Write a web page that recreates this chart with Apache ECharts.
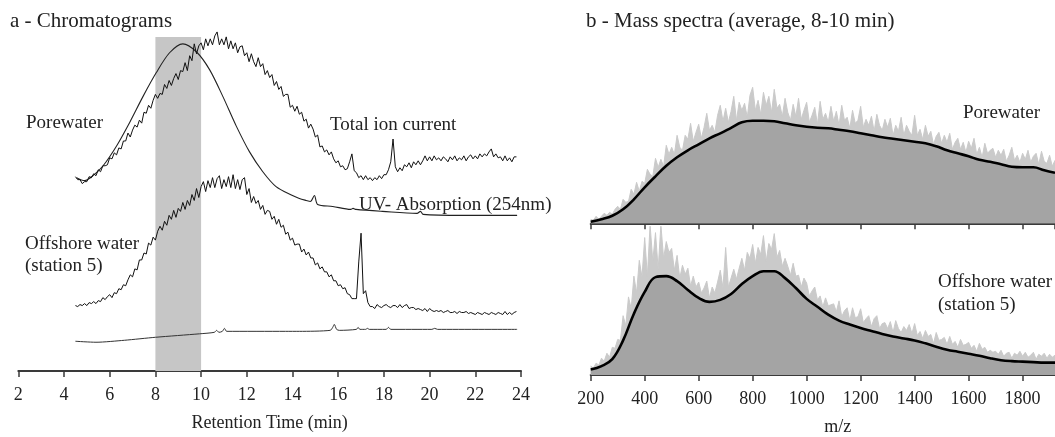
<!DOCTYPE html>
<html>
<head>
<meta charset="utf-8">
<script src="https://cdn.jsdelivr.net/npm/echarts@6/dist/echarts.min.js"></script>
<style>
  html, body { margin: 0; padding: 0; background: #fff; }
  #chart { width: 1055px; height: 437px; }
</style>
</head>
<body>
<div id="chart"></div>
<script>
// ---- a: chromatograms (retention time in min, intensity in arbitrary units) ----
// total ion current, sampled every 0.1 min from 4.5 min
const ticStart = 4.5;
const ticStep = 0.1;
const ticPorewater = [
  196, 193, 193, 189, 191, 191, 196, 195, 199, 197,
  203, 201, 207, 207, 208, 215, 214, 220, 218, 225,
  224, 232, 232, 240, 236, 243, 248, 246, 253, 250,
  261, 260, 268, 265, 273, 279, 275, 280, 279, 289,
  285, 293, 288, 295, 300, 294, 303, 302, 311, 303,
  318, 313, 330, 320, 328, 331, 324, 335, 328, 335,
  329, 338, 342, 329, 335, 329, 337, 325, 333, 325,
  331, 321, 327, 328, 318, 321, 312, 320, 312, 307,
  316, 307, 310, 299, 303, 296, 299, 288, 292, 284,
  287, 277, 279, 279, 266, 268, 262, 267, 259, 261,
  252, 254, 245, 249, 244, 236, 238, 226, 227, 221,
  223, 218, 221, 214, 210, 212, 206, 207, 203, 204,
  211, 219, 202, 200, 195, 197, 193, 197, 193, 195,
  192, 195, 193, 197, 194, 198, 198, 203, 211, 234,
  206, 201, 205, 202, 208, 206, 210, 205, 211, 208,
  212, 208, 212, 217, 212, 216, 212, 217, 213, 215,
  212, 216, 214, 211, 216, 213, 217, 212, 215, 213,
  217, 212, 216, 218, 214, 217, 214, 219, 216, 219,
  217, 221, 224, 216, 219, 215, 216, 212, 217, 212,
  215, 211, 216, 216
];
const ticOffshore = [
  66, 65, 67, 66, 68, 66, 69, 68, 70, 68,
  71, 70, 74, 72, 75, 77, 74, 79, 78, 83,
  82, 87, 86, 92, 97, 95, 103, 102, 112, 112,
  119, 118, 129, 127, 135, 132, 141, 146, 142, 151,
  147, 157, 153, 162, 155, 164, 161, 170, 163, 172,
  167, 178, 172, 184, 175, 186, 191, 181, 192, 185,
  195, 185, 194, 197, 184, 193, 186, 196, 185, 198,
  184, 193, 183, 193, 195, 178, 184, 170, 176, 169,
  172, 163, 167, 158, 162, 161, 153, 156, 148, 153,
  145, 147, 138, 140, 132, 134, 127, 128, 128, 120,
  123, 117, 120, 114, 114, 107, 109, 103, 105, 100,
  100, 95, 97, 91, 91, 86, 87, 83, 84, 78,
  77, 73, 73, 73, 110, 139, 78, 81, 69, 65,
  65, 63, 67, 65, 64, 66, 67, 65, 64, 66,
  66, 64, 67, 64, 66, 67, 63, 64, 64, 62,
  63, 62, 61, 63, 60, 63, 61, 60, 61, 60,
  61, 59, 60, 61, 59, 59, 60, 58, 60, 59,
  59, 60, 58, 59, 58, 57, 59, 58, 57, 59,
  58, 57, 59, 58, 57, 59, 58, 57, 60, 57,
  59, 57, 59, 60
];
// UV absorption (254nm), [time, intensity]
const uvPorewater = [
  [4.55, 195], [4.9, 192], [5.27, 197], [5.71, 207], [6.3, 227], [6.88, 251],
  [7.46, 277], [8.04, 301], [8.62, 321], [9.2, 330], [9.79, 322], [10.37, 304],
  [10.95, 277], [11.54, 247], [12.12, 221], [12.7, 201], [13.28, 186], [14.0, 177],
  [14.3, 174], [14.6, 172], [14.78, 171], [14.96, 177], [15.1, 168], [15.76, 166],
  [16.55, 163], [16.65, 164], [16.78, 163], [17.94, 161], [19.45, 159], [19.6, 161],
  [19.72, 158], [21.43, 157], [23.83, 157]
];
const uvOffshore = [
  [4.5, 30], [5.4, 29], [6.65, 31], [8.0, 34], [9.93, 37.5], [10.58, 39], [10.68, 41],
  [10.78, 39], [10.93, 40], [11.02, 43], [11.12, 40], [13.7, 40], [14.3, 40],
  [15.65, 41], [15.76, 44], [15.83, 47], [15.93, 42], [16.05, 41], [16.8, 42],
  [16.87, 44], [16.95, 42], [17.2, 42], [17.28, 43], [17.36, 42], [18.1, 42],
  [18.2, 44], [18.3, 42], [20.1, 42], [20.22, 43], [20.35, 42], [23.83, 42]
];
const shadedWindow = [8, 10];

// ---- b: mass spectra, average 8-10 min (m/z, intensity in arbitrary units) ----
const mzStart = 200;
const rawStep = 10;     // raw spectrum every 10 m/z
const smoothStep = 40;  // smoothed envelope every 40 m/z
const rawPorewater = [
  4, 3, 7, 4, 7, 10, 8, 11, 9, 14,
  17, 14, 24, 21, 22, 34, 29, 41, 32, 42,
  40, 54, 49, 47, 65, 56, 64, 57, 78, 69,
  76, 69, 88, 76, 73, 88, 84, 100, 82, 91,
  99, 85, 96, 110, 93, 98, 91, 108, 118, 102,
  115, 101, 112, 127, 103, 121, 113, 120, 106, 128,
  136, 113, 123, 109, 131, 118, 127, 111, 134, 115,
  119, 107, 125, 111, 103, 119, 107, 125, 104, 113,
  121, 101, 108, 116, 99, 122, 104, 110, 101, 117,
  102, 112, 98, 118, 103, 106, 95, 113, 100, 103,
  117, 96, 104, 98, 107, 92, 109, 98, 93, 104,
  96, 105, 88, 98, 92, 106, 88, 98, 92, 88,
  108, 88, 94, 84, 98, 87, 92, 79, 87, 91,
  80, 88, 81, 90, 74, 81, 85, 74, 81, 71,
  82, 75, 85, 69, 76, 66, 80, 70, 73, 75,
  66, 73, 68, 74, 62, 68, 76, 63, 68, 61,
  70, 64, 73, 61, 67, 70, 59, 72, 62, 60,
  68, 57, 63
];
const smoothPorewater = [
  1.5, 4, 7.5, 14, 24, 36, 47, 57.5, 66, 73, 79, 85, 90, 95.5, 101, 102.5,
  102.5, 102, 100, 98, 96.5, 95.5, 95, 93.5, 92, 90, 88, 86, 84.5, 83, 81.5,
  80, 77, 73, 70, 67, 63.5, 61.5, 59, 56.5, 56, 56, 53, 50.5
];
const rawOffshore = [
  9, 7, 12, 10, 17, 14, 22, 18, 28, 27,
  36, 35, 60, 50, 79, 67, 100, 83, 116, 99,
  139, 100, 152, 115, 144, 107, 152, 118, 135, 124,
  128, 106, 121, 98, 111, 102, 108, 90, 100, 89,
  94, 83, 88, 95, 78, 89, 83, 94, 106, 88,
  129, 89, 98, 107, 97, 108, 118, 106, 124, 118,
  132, 113, 129, 122, 141, 115, 133, 127, 143, 119,
  126, 110, 118, 110, 101, 113, 100, 101, 89, 98,
  93, 80, 85, 89, 76, 80, 69, 78, 70, 71,
  72, 64, 75, 59, 65, 68, 55, 68, 58, 59,
  67, 53, 57, 60, 49, 57, 60, 47, 52, 53,
  47, 54, 43, 55, 47, 43, 49, 45, 51, 42,
  52, 40, 44, 37, 45, 39, 41, 32, 43, 35,
  36, 38, 31, 39, 31, 34, 28, 36, 30, 31,
  33, 27, 30, 24, 32, 26, 28, 23, 25, 23,
  24, 21, 25, 19, 22, 23, 17, 22, 20, 24,
  19, 23, 18, 20, 23, 16, 21, 19, 22, 17,
  21, 18, 20
];
const smoothOffshore = [
  5.5, 9, 16, 35, 62, 84, 99, 100, 95, 86, 78, 74, 76, 82, 92, 100, 105, 105,
  98, 88, 77, 69, 61, 55, 51, 47.5, 44.5, 41.5, 39, 37, 35, 32, 28.5, 25.5,
  23.5, 21.5, 19.5, 17, 15, 14, 13.5, 13, 12.5, 12.5
];

// sampled arrays -> [x, y] pairs
const onGrid = (start, step, vals) => vals.map((v, i) => [+(start + i * step).toFixed(2), v]);

const serif = '"Liberation Serif", "Times New Roman", serif';
const ink = '#222';
const axisColor = '#3a3a3a';

const chart = echarts.init(document.getElementById('chart'));

const baseX = {
  type: 'value',
  splitLine: { show: false },
  axisLine: { lineStyle: { color: axisColor, width: 2 } },
  axisTick: { length: 6, lineStyle: { color: axisColor, width: 1.5 } },
  axisLabel: { color: ink, fontFamily: serif, fontSize: 18, margin: 15, formatter: v => String(v) },
  nameTextStyle: { color: ink, fontFamily: serif, fontSize: 18 }
};
const hiddenY = (i, max) => ({ type: 'value', gridIndex: i, min: 0, max: max, show: false });

const lineSeries = (xi, data, color, width, extra) => Object.assign({
  type: 'line',
  xAxisIndex: xi,
  yAxisIndex: xi,
  data: data,
  showSymbol: false,
  silent: true,
  lineStyle: { color: color, width: width }
}, extra || {});

const label = (text, x, y) => ({
  type: 'text',
  x: x,
  y: y,
  style: { text: text, fill: ink, font: '19px ' + serif, verticalAlign: 'middle' }
});

const option = {
  animation: false,
  backgroundColor: '#fff',
  title: [
    { text: 'a - Chromatograms', left: 10, top: 11, padding: 0,
      textStyle: { fontFamily: serif, fontSize: 21, fontWeight: 'normal', color: ink } },
    { text: 'b - Mass spectra (average, 8-10 min)', left: 586, top: 11, padding: 0,
      textStyle: { fontFamily: serif, fontSize: 21, fontWeight: 'normal', color: ink } }
  ],
  grid: [
    { left: 18.3, width: 502.7, top: 24, height: 350 },
    { left: 590.7, width: 464.3, top: 73.3, height: 150 },
    { left: 590.7, width: 464.3, top: 226.7, height: 150 }
  ],
  xAxis: [
    Object.assign({}, baseX, { gridIndex: 0, min: 2, max: 24, interval: 2,
      name: 'Retention Time (min)', nameLocation: 'middle', nameGap: 43 }),
    Object.assign({}, baseX, { gridIndex: 1, min: 200, max: 1920, interval: 200,
      axisLabel: { show: false } }),
    Object.assign({}, baseX, { gridIndex: 2, min: 200, max: 1920, interval: 200,
      axisLabel: Object.assign({}, baseX.axisLabel, { showMaxLabel: false }),
      name: 'm/z', nameLocation: 'middle', nameGap: 43,
      nameTextStyle: Object.assign({}, baseX.nameTextStyle, { padding: [0, 0, 0, 30] }) })
  ],
  yAxis: [hiddenY(0, 350), hiddenY(1, 150), hiddenY(2, 150)],
  graphic: [
    label('Porewater', 26, 123),
    label('Total ion current', 330, 125),
    label('UV- Absorption (254nm)', 359, 205),
    label('Offshore water', 25, 244),
    label('(station 5)', 25, 266),
    label('Porewater', 963, 113),
    label('Offshore water', 938, 282),
    label('(station 5)', 938, 305)
  ],
  series: [
    lineSeries(0, uvOffshore, '#333', 1, {
      smooth: 0.25,
      markArea: {
        silent: true,
        itemStyle: { color: '#c6c6c6' },
        data: [[{ xAxis: shadedWindow[0], yAxis: 0 }, { xAxis: shadedWindow[1], yAxis: 337 }]]
      }
    }),
    lineSeries(0, onGrid(ticStart, ticStep, ticOffshore), '#111', 1),
    lineSeries(0, uvPorewater, '#222', 1.1, { smooth: 0.3 }),
    lineSeries(0, onGrid(ticStart, ticStep, ticPorewater), '#111', 1),

    lineSeries(1, onGrid(mzStart, rawStep, rawPorewater), '#cacaca', 1, {
      areaStyle: { color: '#cacaca', opacity: 1 }
    }),
    lineSeries(1, onGrid(mzStart, smoothStep, smoothPorewater), '#000', 2.6, {
      smooth: 0.4, areaStyle: { color: '#a4a4a4', opacity: 1 }
    }),
    lineSeries(2, onGrid(mzStart, rawStep, rawOffshore), '#cacaca', 1, {
      areaStyle: { color: '#cacaca', opacity: 1 }
    }),
    lineSeries(2, onGrid(mzStart, smoothStep, smoothOffshore), '#000', 2.6, {
      smooth: 0.4, areaStyle: { color: '#a4a4a4', opacity: 1 }
    })
  ]
};

chart.setOption(option);
</script>
</body>
</html>
